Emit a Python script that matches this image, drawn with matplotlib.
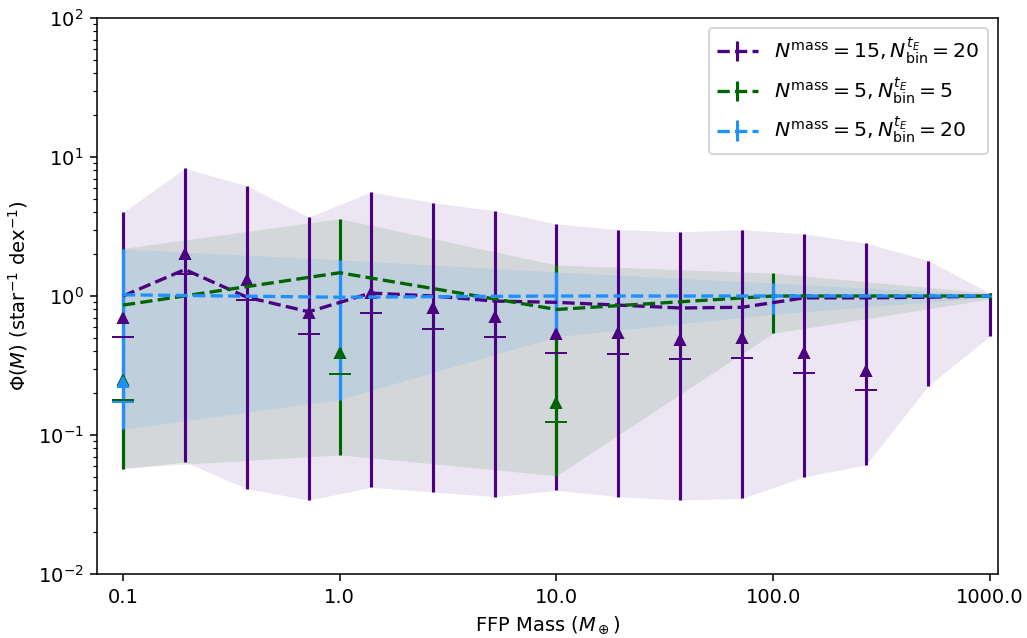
import numpy as np
import matplotlib
matplotlib.use('Agg')
import matplotlib.pyplot as plt

## donnees
# 15 bins de masse (violet)
m15 = [0.1, 0.193, 0.373, 0.72, 1.39, 2.68, 5.18, 10.0, 19.3, 37.3, 72.0, 139.0, 268.0, 518.0, 1000.0]
med15 = [1.0, 1.55, 0.98, 0.77, 1.05, 1.0, 0.92, 0.9, 0.86, 0.82, 0.83, 0.97, 0.97, 0.98, 1.0]
up15 = [4.0, 8.3, 6.2, 3.7, 5.6, 4.7, 4.1, 3.3, 3.0, 2.9, 3.0, 2.8, 2.4, 1.8, 1.05]
low15 = [0.057, 0.064, 0.041, 0.034, 0.042, 0.039, 0.036, 0.040, 0.036, 0.034, 0.035, 0.050, 0.061, 0.225, 0.515]
tri15 = [0.69, 2.0, 1.30, 0.75, 1.05, 0.82, 0.71, 0.53, 0.54, 0.48, 0.50, 0.39, 0.29, np.nan, np.nan]
bar15 = [0.507, 1.44, 0.94, 0.53, 0.75, 0.58, 0.51, 0.39, 0.38, 0.35, 0.36, 0.28, 0.21, np.nan, np.nan]

# 5 bins de masse
m5 = [0.1, 1.0, 10.0, 100.0, 1000.0]
# tE 5 bins (vert)
med_g = [0.86, 1.47, 0.80, 1.0, 1.0]
up_g = [2.2, 3.6, 1.67, 1.46, 1.05]
low_g = [0.058, 0.072, 0.051, 0.54, 0.95]
tri_g = [0.25, 0.39, 0.17, np.nan, np.nan]
bar_g = [0.18, 0.275, 0.124, np.nan, np.nan]
# tE 20 bins (bleu)
med_b = [1.02, 0.98, 1.0, 1.0, 1.0]
up_b = [2.18, 1.82, 1.49, 1.24, 1.02]
low_b = [0.11, 0.18, 0.51, 0.74, 0.98]
tri_b = [0.24, np.nan, np.nan, np.nan, np.nan]
bar_b = [0.173, np.nan, np.nan, np.nan, np.nan]

xticks = [0.1, 1, 10, 100, 1000]
xticklabels = ['0.1', '1.0', '10.0', '100.0', '1000.0']

series = [
    (m15, med15, up15, low15, tri15, bar15, 'indigo', r'$N^{\rm mass}=15, N^{t_E}_{\rm bin}=20$'),
    (m5, med_g, up_g, low_g, tri_g, bar_g, 'darkgreen', r'$N^{\rm mass}=5, N^{t_E}_{\rm bin}=5$'),
    (m5, med_b, up_b, low_b, tri_b, bar_b, 'dodgerblue', r'$N^{\rm mass}=5, N^{t_E}_{\rm bin}=20$'),
]

##figure
fig = plt.figure(figsize=(1027/140, 638/140), dpi=140)
ax = fig.add_axes([97/1027, 1-574/638, (998-97)/1027, (574-18)/638])

# zones remplies (bornes des barres d'erreur)
for x, med, up, low, tri, bar, col, lab in series:
    ax.fill_between(x, low, up, color=col, alpha=0.1, lw=0)

# medianes + barres d'erreur
for x, med, up, low, tri, bar, col, lab in series:
    med = np.array(med)
    yerr = [med-np.array(low), np.array(up)-med]
    ax.errorbar(x, med, yerr=yerr, ls='--', lw=1.7, elinewidth=1.6, color=col, label=lab)

# marqueurs triangle et trait
for x, med, up, low, tri, bar, col, lab in series:
    ax.plot(x, tri, '^', color=col, ls='none', ms=5.5)
    ax.plot(x, bar, '_', color=col, ls='none', ms=11)

ax.set_xscale('log')
ax.set_yscale('log')
ax.set_xlim(10**-1.12, 10**3.037)
ax.set_ylim(1e-2, 1e2)
ax.set_xticks(xticks)
ax.set_xticklabels(xticklabels)
ax.xaxis.set_minor_locator(matplotlib.ticker.NullLocator())
ax.set_xlabel(r'FFP Mass ($M_\oplus$)')
ax.set_ylabel(r'$\Phi(M)$ (star$^{-1}$ dex$^{-1}$)')
ax.legend(loc='upper right', fontsize=10.5)

fig.savefig('out.png', dpi=140)
